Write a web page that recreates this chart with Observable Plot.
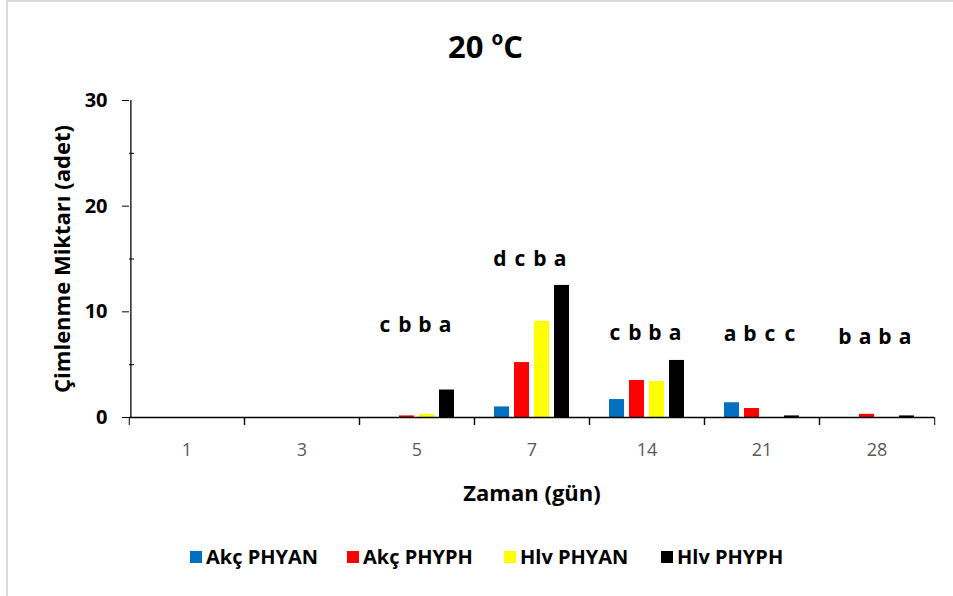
<!DOCTYPE html>
<html><head><meta charset="utf-8">
<script src="https://cdn.jsdelivr.net/npm/d3@7"></script>
<script src="https://cdn.jsdelivr.net/npm/@observablehq/plot@0.6"></script>
<style>
body{margin:0;background:#fff;font-family:"Open Sans",sans-serif;}
#wrap{position:relative;width:953px;height:596px;overflow:hidden;background:#fff;}
#border{position:absolute;left:6px;top:0;width:1200px;height:1200px;border-left:2px solid #d9d9d9;border-top:2px solid #d9d9d9;pointer-events:none;}
#title{position:absolute;top:0;left:9px;width:953px;height:80px;text-align:center;font-weight:bold;font-size:31px;line-height:80px;color:#000;}
#title sup{font-size:19px;position:relative;top:-2px;}
#chart{position:absolute;top:80px;left:0;}
#legend{position:absolute;top:543px;left:190px;display:flex;align-items:center;font-weight:bold;font-size:20px;color:#000;}
#legend .item{display:flex;align-items:center;gap:4px;width:157px;white-space:nowrap;}
#legend .sw{width:12px;height:12px;display:inline-block;flex:none;}
</style></head>
<body>
<div id="wrap">
  <div id="border"></div>
  <div id="title">20 <sup>o</sup>C</div>
  <div id="chart"></div>
  <div id="legend"></div>
</div>
<script>
const days = ["1", "3", "5", "7", "14", "21", "28"];
const series = ["Akç PHYAN", "Akç PHYPH", "Hlv PHYAN", "Hlv PHYPH"];
const colors = ["#0070C0", "#FF0000", "#FFFF00", "#000000"];

const akcPhyan = [0, 0, 0, 1.0, 1.7, 1.4, 0];
const akcPhyph = [0, 0, 0.15, 5.2, 3.5, 0.85, 0.3];
const hlvPhyan = [0, 0, 0.3, 9.1, 3.4, 0, 0];
const hlvPhyph = [0, 0, 2.6, 12.5, 5.4, 0.15, 0.15];

const akcPhyanLetters = [null, null, "c", "d", "c", "a", "b"];
const akcPhyphLetters = [null, null, "b", "c", "b", "b", "a"];
const hlvPhyanLetters = [null, null, "b", "b", "b", "c", "b"];
const hlvPhyphLetters = [null, null, "a", "a", "a", "c", "a"];
const letterHeights = [null, null, 8.7, 15.0, 8.0, 7.9, 7.6];

const yMajorTicks = [0, 10, 20, 30];
const yMinorTicks = [5, 15, 25];
const yTitle = "Çimlenme Miktarı (adet)";
const xTitle = "Zaman (gün)";

const valueSets = [akcPhyan, akcPhyph, hlvPhyan, hlvPhyph];
const letterSets = [akcPhyanLetters, akcPhyphLetters, hlvPhyanLetters, hlvPhyphLetters];

const rows = [];
const letterRows = [];
days.forEach((day, i) => {
  series.forEach((s, j) => {
    rows.push({day, series: s, value: valueSets[j][i]});
    if (letterSets[j][i] != null) letterRows.push({day, series: s, letter: letterSets[j][i], h: letterHeights[i]});
  });
});

const W = 953, ML = 127, MR = 18;
const PI = 0.24, PO = 0.86;
const facetW = (W - ML - MR) / days.length;
const halfStep = facetW / 2;
// offset from centre of the first band to the left edge of its facet
const bandStep = facetW / (series.length - PI + 2 * PO);
const firstBandCentre = PO * bandStep + bandStep * (1 - PI) / 2;

const chart = Plot.plot({
  width: W, height: 430,
  marginTop: 20, marginBottom: 93, marginLeft: ML, marginRight: MR,
  style: {fontFamily: "'Open Sans', sans-serif", background: "transparent", color: "#000"},
  fx: {domain: days, padding: 0},
  x: {domain: series, paddingInner: PI, paddingOuter: PO, axis: null},
  y: {domain: [0, 30]},
  color: {domain: series, range: colors},
  marks: [
    Plot.barY(rows, {fx: "day", x: "series", y: "value", fill: "series"}),
    Plot.ruleY([0], {stroke: "#000", strokeWidth: 1.3}),
    Plot.ruleX([series[0]], {x: d => d, fx: () => days[0], y1: 0, y2: 30, dx: -firstBandCentre, stroke: "#000", strokeWidth: 1.3}),
    Plot.axisY({ticks: yMajorTicks, tickSize: 7, tickPadding: 15, fontSize: 20, fontWeight: "bold", fill: "#000", stroke: "#000", label: null, tickFormat: d => d}),
    Plot.axisY({ticks: yMinorTicks, tickSize: -5, text: null, label: null, stroke: "#000"}),
    Plot.axisY({ticks: [], label: yTitle, labelAnchor: "center", labelOffset: 75, labelArrow: "none", fontSize: 22, fontWeight: "bold", fill: "#000"}),
    Plot.axisFx({anchor: "bottom", text: null, tickSize: 8, dx: -halfStep, label: null, stroke: "#000"}),
    Plot.axisFx({anchor: "bottom", text: null, tickSize: 8, dx: halfStep, label: null, stroke: "#000"}),
    Plot.axisFx({anchor: "bottom", tickSize: 0, tickPadding: 26, fontSize: 18, fill: "#595959", label: null}),
    Plot.axisFx({anchor: "bottom", text: null, tickSize: 0, label: xTitle, labelAnchor: "center", labelOffset: 83, labelArrow: "none", fontSize: 22, fontWeight: "bold", fill: "#000"}),
    Plot.text(letterRows, {fx: "day", x: "series", y: "h", text: "letter", fontSize: 21, fontWeight: "bold", fill: "#000", dx: -2})
  ]
});
document.getElementById("chart").appendChild(chart);

const legend = d3.select("#legend");
series.forEach((s, i) => {
  const it = legend.append("div").attr("class", "item");
  it.append("span").attr("class", "sw").style("background", colors[i]);
  it.append("span").text(s);
});
</script>
</body></html>
